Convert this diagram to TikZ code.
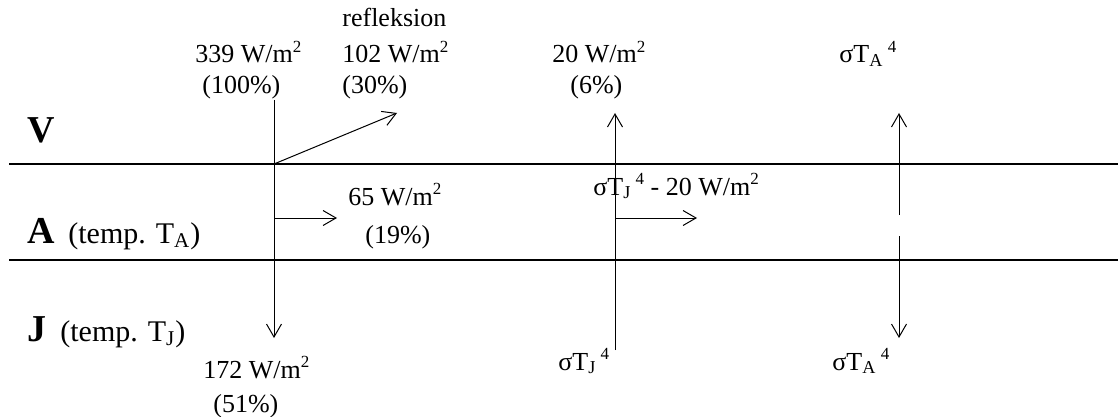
\documentclass[tikz,border=0pt]{standalone}
\usepackage{fontspec}
\setmainfont{Liberation Serif}
\usetikzlibrary{arrows.meta}
\newcommand{\supz}[1]{\raisebox{0.85ex}{\fontsize{8.5}{9}\selectfont #1}}
\begin{document}
\begin{tikzpicture}[x=0.5pt,y=-0.5pt,
  lbl/.style={inner sep=0pt,anchor=base west,font=\fontsize{13}{15}\selectfont},
  tmp/.style={inner sep=0pt,anchor=base west,font=\fontsize{15}{17}\selectfont},
  big/.style={inner sep=0pt,anchor=base west,font=\fontsize{19}{22}\selectfont\bfseries},
  layer/.style={line width=1.1pt},
  flow/.style={line width=0.5pt,-{Straight Barb[length=6.5pt,width=7.5pt]}}]
\useasboundingbox (0,0) rectangle (1118,417);
% layer boundaries
\coordinate (L1a) at (9,164); \coordinate (L1b) at (1118,164);
\coordinate (L2a) at (9,260); \coordinate (L2b) at (1118,260);
\draw[layer] (L1a) -- (L1b);
\draw[layer] (L2a) -- (L2b);
% layer labels
\node[big] (V) at (27,142) {V};
\node[big] (A) at (27,243) {A};
\node[tmp] (At) at (68,243) {(temp. T\textsubscript{A})};
\node[big] (J) at (27,341) {J};
\node[tmp] (Jt) at (60,341) {(temp. T\textsubscript{J})};
% solar input
\coordinate (s0) at (274,100); \coordinate (s1) at (274,338);
\draw[flow] (s0) -- (s1);
\coordinate (r0) at (274,164); \coordinate (r1) at (397,113);
\draw[flow] (r0) -- (r1);
\coordinate (a0) at (274,218); \coordinate (a1) at (337,218);
\draw[flow] (a0) -- (a1);
\node[lbl] (refl) at (342,27) {refleksion};
\node[lbl] (in) at (195,63) {339 W/m\supz{2}};
\node[lbl] (inp) at (202,94) {(100\%)};
\node[lbl] (ref) at (342,63) {102 W/m\supz{2}};
\node[lbl] (refp) at (342,94) {(30\%)};
\node[lbl] (abs) at (348,205) {65 W/m\supz{2}};
\node[lbl] (absp) at (365,243) {(19\%)};
\node[lbl] (gnd) at (203,378) {172 W/m\supz{2}};
\node[lbl] (gndp) at (213,412) {(51\%)};
% ground emission
\coordinate (b0) at (615,350); \coordinate (b1) at (615,113);
\draw[flow] (b0) -- (b1);
\coordinate (c0) at (615,218); \coordinate (c1) at (697,218);
\draw[flow] (c0) -- (c1);
\node[lbl] (out) at (552,63) {20 W/m\supz{2}};
\node[lbl] (outp) at (570,94) {(6\%)};
\node[lbl] (mid) at (593,195) {σT\textsubscript{J}\,\supz{4} - 20 W/m\supz{2}};
\node[lbl] (sj) at (558,370) {σT\textsubscript{J}\,\supz{4}};
% atmosphere emission
\coordinate (d0) at (899,215); \coordinate (d1) at (899,113);
\draw[flow] (d0) -- (d1);
\coordinate (d2) at (899,236); \coordinate (d3) at (899,338);
\draw[flow] (d2) -- (d3);
\node[lbl] (sa1) at (839,63) {σT\textsubscript{A}\,\supz{4}};
\node[lbl] (sa2) at (832,370) {σT\textsubscript{A}\,\supz{4}};
\end{tikzpicture}
\end{document}
